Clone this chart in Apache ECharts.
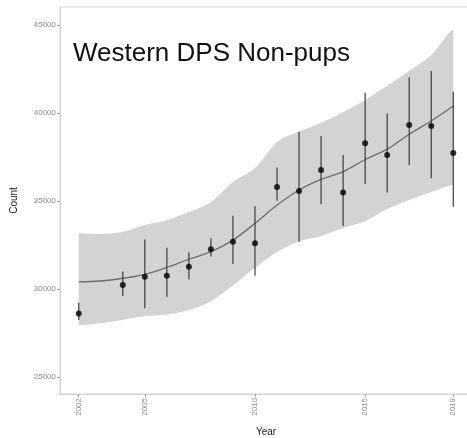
<!DOCTYPE html>
<html>
<head>
<meta charset="utf-8">
<script src="https://cdn.jsdelivr.net/npm/echarts@6/dist/echarts.min.js"></script>
<style>
  html, body { margin: 0; padding: 0; background: #ffffff; }
  #chart { width: 467px; height: 438px; }
</style>
</head>
<body>
<div id="chart"></div>
<script>
// Survey estimates (points with error bars)
const obsYears  = [2002, 2004, 2005, 2006, 2007, 2008, 2009, 2010, 2011, 2012, 2013, 2014, 2015, 2016, 2017, 2018, 2019];
const obsCounts = [28600, 30230, 30700, 30750, 31270, 32260, 32690, 32600, 35800, 35570, 36760, 35490, 38280, 37610, 39320, 39260, 37730];
const obsLower  = [28240, 29600, 28900, 29560, 30550, 31840, 31420, 30750, 35020, 32690, 34810, 33580, 35970, 35490, 37050, 36290, 34680];
const obsUpper  = [29220, 31000, 32820, 32350, 32090, 32880, 34170, 34720, 36910, 38940, 38690, 37610, 41150, 39980, 42030, 42390, 41210];

// Model trend with its confidence band
const trendYears = [2002, 2003, 2004, 2005, 2006, 2007, 2008, 2009, 2010, 2011, 2012, 2013, 2014, 2015, 2016, 2017, 2018, 2019];
const trendFit   = [30400, 30455, 30610, 30835, 31230, 31690, 32120, 32780, 33730, 34770, 35630, 36230, 36670, 37360, 37950, 38800, 39550, 40400];
const bandLower  = [27950, 28050, 28250, 28450, 28550, 28800, 29300, 30200, 31200, 32100, 32700, 33011, 33466, 33864, 34545, 35057, 35511, 35909];
const bandUpper  = [33165, 33125, 33256, 33636, 33920, 34375, 34943, 36080, 36875, 38350, 38950, 39450, 40050, 40750, 41550, 42400, 43300, 44750];

// Tick labels
const xTicks = [2002, 2005, 2010, 2015, 2019];
const yTicks = [25000, 30000, 35000, 40000, 45000];

// Catmull-Rom resampling of a yearly series, in data space
function smoothSeries(xs, ys, steps) {
  const out = [];
  const n = xs.length;
  for (let i = 0; i < n - 1; i++) {
    const y0 = ys[Math.max(i - 1, 0)], y1 = ys[i], y2 = ys[i + 1], y3 = ys[Math.min(i + 2, n - 1)];
    for (let s = 0; s < steps; s++) {
      const t = s / steps, t2 = t * t, t3 = t2 * t;
      const v = 0.5 * ((2 * y1) + (-y0 + y2) * t + (2 * y0 - 5 * y1 + 4 * y2 - y3) * t2 + (-y0 + 3 * y1 - 3 * y2 + y3) * t3);
      out.push([xs[i] + (xs[i + 1] - xs[i]) * t, v]);
    }
  }
  out.push([xs[n - 1], ys[n - 1]]);
  return out;
}

const bandTop = smoothSeries(trendYears, bandUpper, 10);
const bandBottom = smoothSeries(trendYears, bandLower, 10);

const chart = echarts.init(document.getElementById('chart'), null, { renderer: 'canvas' });

const labelColor = '#8a8a8a';
const axisFont = 'Liberation Sans, Arial, sans-serif';

const option = {
  animation: false,
  backgroundColor: '#ffffff',
  grid: {
    left: 60, top: 7, width: 412, height: 387,
    show: true, borderColor: '#d4d4d4', borderWidth: 1, backgroundColor: 'transparent',
    outerBoundsMode: 'none'
  },
  xAxis: {
    type: 'value', min: 2001.15, max: 2019.85, z: 10,
    name: 'Year', nameLocation: 'middle', nameGap: 33,
    nameTextStyle: { fontFamily: axisFont, fontSize: 10, color: '#222222' },
    axisLine: { show: true, lineStyle: { color: '#d4d4d4', width: 1 } },
    axisTick: { show: true, length: 3, lineStyle: { color: '#a0a0a0' }, customValues: xTicks },
    axisLabel: {
      customValues: xTicks, rotate: 90, margin: 4,
      fontFamily: axisFont, fontSize: 8, color: labelColor,
      formatter: v => String(v)
    },
    splitLine: { show: false }
  },
  yAxis: {
    type: 'value', min: 24030, max: 46030, z: 10,
    name: 'Count', nameLocation: 'middle', nameGap: 41,
    nameTextStyle: { fontFamily: axisFont, fontSize: 10, color: '#222222' },
    axisLine: { show: true, lineStyle: { color: '#d4d4d4', width: 1 } },
    axisTick: { show: true, length: 3, lineStyle: { color: '#a0a0a0' }, customValues: yTicks },
    axisLabel: {
      customValues: yTicks, margin: 4,
      fontFamily: axisFont, fontSize: 8, color: labelColor,
      formatter: v => String(v)
    },
    splitLine: { show: false }
  },
  graphic: [{
    type: 'text', left: 73, top: 41, z: 100,
    style: { text: 'Western DPS Non-pups', font: '26px "Liberation Sans", Arial, sans-serif', fill: '#111111' }
  }],
  series: [
    {
      // confidence band as one filled polygon between the two bounds
      name: 'band', type: 'custom', silent: true, z: 1,
      data: [[trendYears[0], bandLower[0]]],
      renderItem: (params, api) => {
        const pts = bandTop.map(p => api.coord(p))
          .concat(bandBottom.slice().reverse().map(p => api.coord(p)));
        return { type: 'polygon', shape: { points: pts }, style: { fill: '#d3d3d3', stroke: null } };
      }
    },
    {
      name: 'trend', type: 'line', smooth: 0.35, symbol: 'none',
      data: trendYears.map((y, i) => [y, trendFit[i]]),
      lineStyle: { color: '#6e6e6e', width: 1.3 }, z: 2
    },
    {
      name: 'errorBars', type: 'custom', z: 3,
      data: obsYears.map((y, i) => [y, obsLower[i], obsUpper[i]]),
      renderItem: (params, api) => {
        const p1 = api.coord([api.value(0), api.value(1)]);
        const p2 = api.coord([api.value(0), api.value(2)]);
        return {
          type: 'line',
          shape: { x1: p1[0], y1: p1[1], x2: p2[0], y2: p2[1] },
          style: { stroke: '#3c3c3c', lineWidth: 1.2 }
        };
      }
    },
    {
      name: 'counts', type: 'scatter', symbol: 'circle', symbolSize: 6,
      data: obsYears.map((y, i) => [y, obsCounts[i]]),
      itemStyle: { color: '#000000' }, z: 4
    }
  ]
};

chart.setOption(option);
</script>
</body>
</html>
